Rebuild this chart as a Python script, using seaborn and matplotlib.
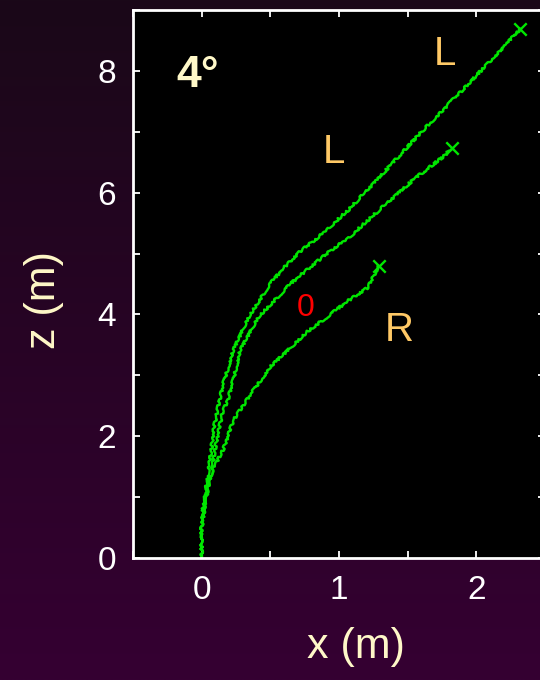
import numpy as np
import pandas as pd
import seaborn as sns
import matplotlib.pyplot as plt
from matplotlib.colors import LinearSegmentedColormap
from matplotlib.ticker import MultipleLocator

# trajectories (x, z in metres)
x_top = [0, 0, 0.01, 0.04, 0.07, 0.09, 0.13, 0.16, 0.23, 0.34, 0.50, 0.60, 0.72, 0.85, 1.07, 1.28, 1.58, 1.87, 2.11, 2.32]
z_top = [0, 0.5, 0.84, 1.28, 1.77, 2.15, 2.59, 2.88, 3.41, 3.95, 4.51, 4.77, 5.04, 5.27, 5.72, 6.22, 6.95, 7.62, 8.18, 8.69]

x_mid = [0, 0, 0.03, 0.07, 0.10, 0.15, 0.19, 0.23, 0.28, 0.41, 0.65, 0.76, 0.94, 1.07, 1.31, 1.55, 1.77, 1.82]
z_mid = [0, 0.5, 0.95, 1.39, 1.82, 2.38, 2.59, 2.92, 3.41, 3.95, 4.51, 4.72, 5.05, 5.26, 5.75, 6.23, 6.61, 6.74]

x_low = [0, 0, 0.02, 0.05, 0.09, 0.16, 0.23, 0.36, 0.50, 0.65, 0.77, 0.89, 1.07, 1.21, 1.29]
z_low = [0, 0.57, 0.84, 1.28, 1.49, 1.80, 2.26, 2.70, 3.14, 3.46, 3.72, 3.92, 4.23, 4.44, 4.80]

# labels on the plot
side_labels = ["L", "L", "R"]
side_x = [1.77, 0.96, 1.44]
side_z = [8.28, 6.66, 3.75]

df = pd.concat([
    pd.DataFrame({"x": x_top, "z": z_top, "run": "top"}),
    pd.DataFrame({"x": x_mid, "z": z_mid, "run": "mid"}),
    pd.DataFrame({"x": x_low, "z": z_low, "run": "low"}),
])
ends = df.groupby("run", sort=False).tail(1)

sns.set_style("dark")
plt.rcParams["font.family"] = ["Liberation Sans", "DejaVu Sans"]

green = "#00e600"
cream = "#fff8c8"

fig = plt.figure(figsize=(5.4, 6.8), dpi=100)

# dark purple gradient behind everything
bg = fig.add_axes([0, 0, 1, 1], zorder=-10)
cmap = LinearSegmentedColormap.from_list("bg", ["#1a0818", "#350032"])
bg.imshow(np.linspace(0, 1, 256).reshape(-1, 1), aspect="auto", cmap=cmap, extent=[0, 1, 0, 1])
bg.axis("off")

ax = fig.add_axes([133 / 540, 1 - 558 / 680, 412 / 540, 548 / 680])
ax.set_facecolor("black")

sns.lineplot(data=df, x="x", y="z", units="run", estimator=None, sort=False,
             color=green, lw=1.7, ax=ax)
for ln in ax.get_lines():
    ln.set_sketch_params(scale=1.2, length=6, randomness=12)
sns.scatterplot(data=ends, x="x", y="z", marker="x", color=green, s=80,
                linewidth=1.7, ax=ax, zorder=3)

for lab, xx, zz in zip(side_labels, side_x, side_z):
    ax.text(xx, zz, lab, color="#ffc966", fontsize=29, ha="center", va="center")
ax.text(-0.03, 7.92, "4°", color=cream, fontsize=32, fontweight="bold", ha="center", va="center")
ax.text(0.76, 4.10, "0", color="red", fontsize=23, ha="center", va="center")

ax.set_xlim(-0.5, 2.5)
ax.set_ylim(0, 9)
ax.xaxis.set_major_locator(MultipleLocator(1))
ax.xaxis.set_minor_locator(MultipleLocator(0.5))
ax.yaxis.set_major_locator(MultipleLocator(2))
ax.yaxis.set_minor_locator(MultipleLocator(1))
ax.tick_params(which="both", direction="in", length=5, width=1.3, color="white",
               top=True, right=True, bottom=True, left=True)
ax.tick_params(which="major", labelsize=24, labelcolor="white", pad=12)
ax.grid(False)
for s in ax.spines.values():
    s.set_color("white")
    s.set_linewidth(2)

ax.set_xlabel("x (m)", color=cream, fontsize=31)
ax.set_ylabel("z (m)", color=cream, fontsize=31)
ax.xaxis.set_label_coords(0.541, -0.163)
ax.xaxis.label.set_va("center")
ax.yaxis.set_label_coords(-0.215, 0.471)
ax.yaxis.label.set_va("center")
ax.yaxis.label.set_ha("center")

fig.savefig("out.png", dpi=100)
